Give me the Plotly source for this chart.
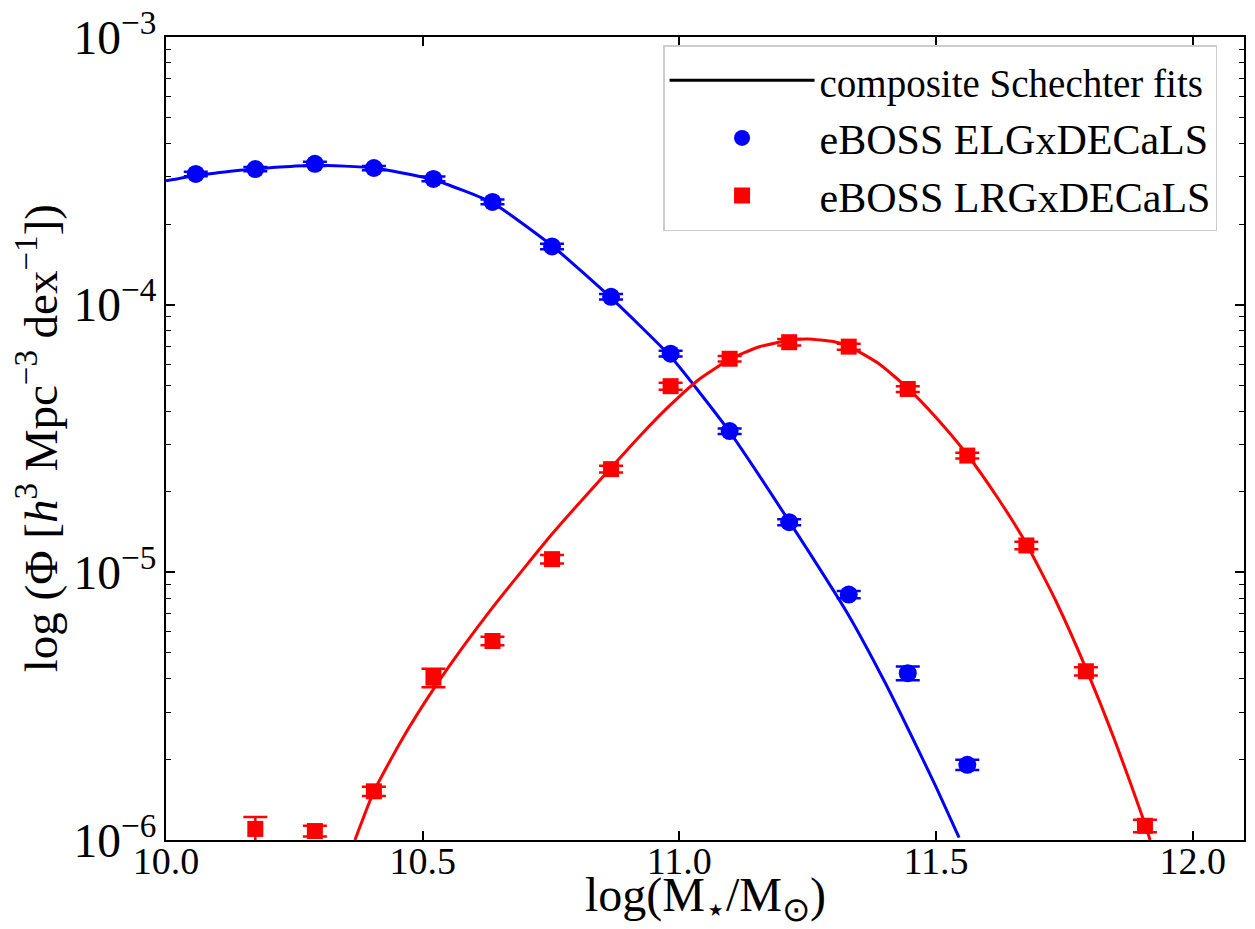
import plotly.graph_objects as go

# ---------------- data ----------------
elg_x = [10.058, 10.174, 10.290, 10.405, 10.521, 10.636, 10.752, 10.867,
         10.983, 11.098, 11.214, 11.330, 11.445, 11.561]
elg_y = [3.08e-4, 3.21e-4, 3.36e-4, 3.24e-4, 2.95e-4, 2.42e-4, 1.65e-4, 1.07e-4,
         6.56e-5, 3.37e-5, 1.54e-5, 8.26e-6, 4.20e-6, 1.91e-6]
elg_err = [6e-6, 6e-6, 6e-6, 6e-6, 6e-6, 5e-6, 4e-6, 2.5e-6,
           1.6e-6, 8e-7, 4e-7, 2.5e-7, 2.5e-7, 8.5e-8]

lrg_x = [10.174, 10.290, 10.405, 10.521, 10.636, 10.752, 10.867, 10.983,
         11.098, 11.214, 11.330, 11.445, 11.561, 11.676, 11.792, 11.907]
lrg_y = [1.10e-6, 1.08e-6, 1.52e-6, 4.04e-6, 5.54e-6, 1.12e-5, 2.43e-5, 4.96e-5,
         6.28e-5, 7.24e-5, 6.97e-5, 4.84e-5, 2.73e-5, 1.26e-5, 4.27e-6, 1.13e-6]
lrg_err = [1.2e-7, 5e-8, 6e-8, 3.2e-7, 2e-7, 4e-7, 7e-7, 1.5e-6,
           1.5e-6, 2e-6, 1.8e-6, 1.2e-6, 7e-7, 4e-7, 1.5e-7, 6e-8]

# composite Schechter fit curves
fit_elg_x = [10.000, 10.058, 10.174, 10.290, 10.405, 10.521, 10.636, 10.752,
             10.867, 10.983, 11.098, 11.214, 11.330, 11.400, 11.450, 11.500, 11.545]
fit_elg_y = [2.90e-4, 3.04e-4, 3.22e-4, 3.32e-4, 3.24e-4, 2.93e-4, 2.40e-4, 1.66e-4,
             1.06e-4, 6.40e-5, 3.35e-5, 1.55e-5, 6.90e-6, 3.90e-6, 2.50e-6, 1.58e-6, 1.02e-6]

fit_lrg_x = [10.368, 10.405, 10.460, 10.521, 10.580, 10.636, 10.700, 10.752,
             10.810, 10.867, 10.925, 10.983, 11.040, 11.098, 11.156, 11.214,
             11.250, 11.300, 11.330, 11.387, 11.445, 11.500, 11.561, 11.620,
             11.676, 11.734, 11.792, 11.850, 11.907, 11.917]
fit_lrg_y = [1.00e-6, 1.52e-6, 2.38e-6, 3.66e-6, 5.31e-6, 7.38e-6, 1.05e-5, 1.39e-5,
             1.86e-5, 2.46e-5, 3.26e-5, 4.23e-5, 5.29e-5, 6.25e-5, 6.96e-5, 7.36e-5,
             7.45e-5, 7.28e-5, 6.99e-5, 6.05e-5, 4.88e-5, 3.79e-5, 2.75e-5, 1.90e-5,
             1.28e-5, 7.78e-6, 4.38e-6, 2.31e-6, 1.15e-6, 1.00e-6]

x_ticks = [10.0, 10.5, 11.0, 11.5, 12.0]
x_range = [10.0, 12.1]
y_range_log = [-6.0, -3.0]

BLUE = "#0000ff"
RED = "#ff0000"
FONT = "Liberation Serif"

fig = go.Figure()

fig.add_trace(go.Scatter(x=fit_elg_x, y=fit_elg_y, mode="lines",
                         line=dict(color=BLUE, width=3, shape="spline", smoothing=0.5),
                         showlegend=False, hoverinfo="skip"))
fig.add_trace(go.Scatter(x=fit_lrg_x, y=fit_lrg_y, mode="lines",
                         line=dict(color=RED, width=3, shape="spline", smoothing=0.5),
                         showlegend=False, hoverinfo="skip"))

fig.add_trace(go.Scatter(x=[None], y=[None], mode="lines",
                         line=dict(color="black", width=3),
                         name='<span style="font-size:39px">composite Schechter fits</span>'))

fig.add_trace(go.Scatter(x=elg_x, y=elg_y, mode="markers",
                         marker=dict(symbol="circle", size=18, color=BLUE),
                         error_y=dict(type="data", array=elg_err, visible=True,
                                      color=BLUE, thickness=2.5, width=12),
                         name="eBOSS ELGxDECaLS"))
fig.add_trace(go.Scatter(x=lrg_x, y=lrg_y, mode="markers",
                         marker=dict(symbol="square", size=16, color=RED),
                         error_y=dict(type="data", array=lrg_err, visible=True,
                                      color=RED, thickness=2.5, width=12),
                         name="eBOSS LRGxDECaLS"))

axis_common = dict(
    showline=True, linecolor="black", linewidth=2, mirror="ticks",
    ticks="inside", ticklen=9, tickwidth=1.5, tickcolor="black",
    showgrid=False, zeroline=False, ticklabeloverflow="allow", automargin=False,
    tickfont=dict(family=FONT, size=38, color="black"),
)

fig.update_xaxes(range=x_range, tickvals=x_ticks, tickformat=".1f",
                 ticklabelstandoff=-14, **axis_common)
fig.update_yaxes(type="log", range=y_range_log, dtick=1, exponentformat="power",
                 minor=dict(ticks="inside", ticklen=5, tickwidth=1.2, tickcolor="black",
                            showgrid=False),
                 **axis_common)

fig.add_annotation(text="log(M<sub>⋆</sub>/M<sub>⊙</sub>)", xref="paper", yref="paper",
                   x=0.5, y=-0.072, xanchor="center", yanchor="middle", showarrow=False,
                   font=dict(family=FONT, size=48, color="black"))
fig.add_annotation(text="log (Φ [<i>h</i><sup>3</sup> Mpc<sup>−3</sup> dex<sup>−1</sup>])",
                   xref="paper", yref="paper", x=-0.119, y=0.5, textangle=-90,
                   xanchor="center", yanchor="middle", showarrow=False,
                   font=dict(family=FONT, size=47, color="black"))

fig.update_layout(
    width=1255, height=929,
    margin=dict(l=158, r=19, t=29, b=97, autoexpand=False),
    paper_bgcolor="white", plot_bgcolor="white",
    font=dict(family=FONT, color="black"),
    showlegend=True,
    legend=dict(x=0.975, xanchor="right", y=0.99, yanchor="top",
                bgcolor="rgba(255,255,255,0.85)", bordercolor="#cccccc", borderwidth=1.5,
                font=dict(family=FONT, size=42, color="black"),
                itemwidth=145, tracegroupgap=0),
)

fig.write_html("out.html")
